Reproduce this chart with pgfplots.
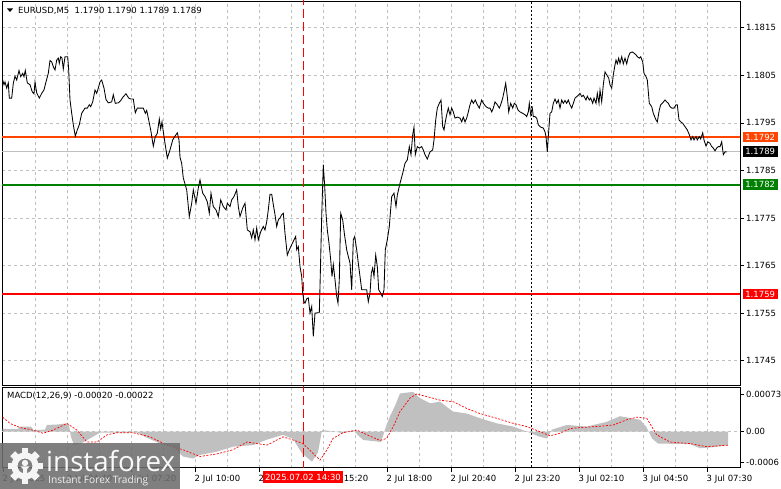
\documentclass[border=0pt]{standalone}
\usepackage{pgfplots}
\usepackage{pgfplotstable}
\pgfplotsset{compat=1.18}
\usepackage{fontspec}
\setmainfont{DejaVu Sans}
\newfontfamily\logofont{Open Sans}
\definecolor{gridc}{HTML}{C0C0C0}
\definecolor{tagorange}{HTML}{FF4500}
\definecolor{tagred}{HTML}{FF0000}
\definecolor{taggreen}{HTML}{008000}
\definecolor{histc}{HTML}{C0C0C0}
\definecolor{logobox}{HTML}{6E6E6E}
\newcommand{\lbl}{\fontsize{8.5bp}{10bp}\selectfont}

% prices (EURUSD, M5 close); x = position along the time axis
\pgfplotstableread{
x y
2.7 1.18040
4 1.18030
5 1.18036
6.7 1.18023
8.3 1.18034
9.3 1.18002
11.7 1.18002
13.3 1.18033
15 1.18048
16.7 1.18040
19 1.18060
20.7 1.18047
22.7 1.18054
24 1.18047
25.3 1.18060
27.3 1.18034
30 1.18030
32.3 1.18015
34 1.18011
35 1.18036
36.7 1.18013
39.3 1.18002
41.7 1.18012
44 1.18019
46 1.18036
48.3 1.18054
50 1.18081
51.7 1.18078
53.3 1.18068
55 1.18061
56.7 1.18082
58.3 1.18086
59.3 1.18075
60.7 1.18089
62 1.18086
63.3 1.18063
65 1.18089
67.7 1.18089
68.7 1.18061
70 1.17998
71.7 1.17970
73.3 1.17946
75.3 1.17922
77.3 1.17935
79.3 1.17946
81.7 1.17970
85 1.17981
87.3 1.17981
89.3 1.17988
90.7 1.17984
92.7 1.17994
95 1.18019
96.7 1.18012
98.3 1.18023
100 1.18036
101.7 1.18040
104 1.18023
106 1.17999
108.3 1.17992
111.7 1.17994
113.3 1.18009
115.3 1.17991
118.3 1.17992
120.7 1.17997
123.3 1.18005
126 1.18011
128.7 1.18002
130.7 1.18000
133.3 1.18000
135.3 1.17971
137.3 1.17981
140 1.17981
143.3 1.17981
145.3 1.17970
146.7 1.17976
148.7 1.17956
150.7 1.17935
153.3 1.17901
155.3 1.17921
157.3 1.17928
159.3 1.17958
160.7 1.17937
162 1.17952
163.3 1.17931
165 1.17907
167.3 1.17876
170 1.17893
172.7 1.17914
175 1.17922
177.3 1.17929
179 1.17914
180 1.17878
181.7 1.17864
183.3 1.17834
186.7 1.17809
189.3 1.17753
191.7 1.17781
193.3 1.17809
196 1.17781
198.3 1.17813
200 1.17830
202.7 1.17802
205 1.17795
207.3 1.17784
209.3 1.17760
211 1.17802
213.3 1.17774
216 1.17767
218.3 1.17753
220.7 1.17788
223.3 1.17774
226 1.17767
227.3 1.17781
230 1.17774
231.7 1.17788
234 1.17795
236.7 1.17809
238.3 1.17774
240 1.17753
242.7 1.17771
245 1.17781
247.3 1.17725
250 1.17721
251.7 1.17708
253.3 1.17725
255 1.17704
256.7 1.17729
258.3 1.17704
260.7 1.17721
263.3 1.17732
265 1.17725
266.7 1.17742
268.3 1.17767
270 1.17800
271.7 1.17800
273.3 1.17778
275 1.17757
276.7 1.17732
278.3 1.17746
280 1.17750
281.7 1.17757
283.3 1.17760
285 1.17718
287.3 1.17672
289.3 1.17683
291.7 1.17694
294 1.17704
295.7 1.17711
296.7 1.17683
298.3 1.17690
300 1.17648
301.7 1.17627
302.7 1.17592
304 1.17574
305 1.17571
306.7 1.17580
308.3 1.17582
310 1.17550
311.7 1.17564
313.3 1.17501
315 1.17550
319.3 1.17551
320 1.17606
321.7 1.17753
323.3 1.17862
324.7 1.17816
326 1.17760
327.3 1.17725
329 1.17697
330.7 1.17662
332 1.17627
333.3 1.17652
335 1.17620
336.7 1.17585
338 1.17571
339.3 1.17620
340.7 1.17760
342.7 1.17746
344.3 1.17718
346.7 1.17683
348.3 1.17669
350 1.17655
351.7 1.17599
353.3 1.17704
354.7 1.17711
356.7 1.17683
358.3 1.17655
360 1.17627
361.7 1.17599
364 1.17599
366.7 1.17599
368.3 1.17574
370 1.17592
371.3 1.17634
372.7 1.17645
374 1.17627
375.7 1.17672
377.3 1.17648
378.7 1.17599
380.7 1.17592
382.3 1.17585
384 1.17599
385.3 1.17683
387.3 1.17704
389.3 1.17732
391.7 1.17795
394 1.17802
396 1.17774
397.3 1.17798
400 1.17823
402.7 1.17844
405 1.17865
407.3 1.17872
409.3 1.17900
411 1.17883
412.7 1.17925
414 1.17941
415.3 1.17883
417.3 1.17900
419.3 1.17897
421.7 1.17900
423.3 1.17893
425 1.17883
427.3 1.17874
430 1.17889
432.7 1.17893
434 1.17914
435.7 1.17956
437.3 1.17981
439.3 1.17991
441 1.17998
442.7 1.17942
444 1.17935
445.3 1.17952
446.7 1.17967
448.3 1.17981
450 1.17967
451.7 1.17981
453.3 1.17973
455 1.17960
457.3 1.17962
460 1.17960
461.7 1.17952
463.3 1.17962
465 1.17952
466.7 1.17960
468.3 1.17973
470 1.17988
471.7 1.17998
473.3 1.17991
475.3 1.17998
477.3 1.17988
479.3 1.17981
481.7 1.17998
483.3 1.17991
486 1.17984
488.3 1.17981
490 1.17981
491.7 1.17973
493.3 1.17981
495 1.17994
497.3 1.17988
499.3 1.17981
500.7 1.17988
502.7 1.18002
504 1.18015
505.7 1.18033
507.3 1.18005
508.7 1.17973
510.7 1.17991
512.7 1.17981
514.3 1.17991
516 1.17988
518 1.17977
520 1.17973
522.7 1.17970
525 1.17967
526.7 1.17963
528.3 1.17973
529.3 1.17991
530.7 1.17967
532.3 1.17981
533.3 1.17963
535 1.17963
536.7 1.17960
538.3 1.17946
540.7 1.17941
543.3 1.17939
545 1.17931
546 1.17921
547.3 1.17889
548.3 1.17921
550 1.17970
551.7 1.17973
553.3 1.17991
555 1.18000
556.7 1.17991
558.3 1.17998
560 1.17981
561.7 1.17998
563.3 1.17991
565 1.17997
566.7 1.17991
568.3 1.17998
570 1.17988
571.7 1.17981
573.3 1.17991
575 1.18002
576.7 1.18005
578.3 1.18008
580 1.18012
581.7 1.18005
583.3 1.18008
586 1.17998
587.3 1.18006
589.3 1.17998
590.7 1.18002
592.7 1.17991
594 1.18002
596 1.17991
597.3 1.18012
599 1.17991
600 1.18019
601.7 1.17994
603.3 1.18030
605 1.18057
606.7 1.18051
608.7 1.18044
610 1.18030
611.7 1.18023
613.3 1.18051
615 1.18072
616 1.18082
617.3 1.18074
618.7 1.18086
620 1.18075
621.7 1.18089
623.3 1.18074
625 1.18086
626.7 1.18074
628.3 1.18089
630 1.18097
632.3 1.18099
634.3 1.18096
636 1.18093
637.3 1.18089
639.3 1.18086
640.7 1.18089
642.7 1.18078
644 1.18054
646 1.18047
647.3 1.18040
649.3 1.17991
651.7 1.17984
653.3 1.17970
656 1.17956
657.3 1.17952
659.3 1.17977
660.7 1.17988
662.7 1.17992
665 1.17998
666.7 1.17994
668.3 1.17991
670 1.17984
671.7 1.17981
674 1.17981
676 1.17988
677.3 1.17988
679 1.17956
680.7 1.17952
682.7 1.17949
685 1.17942
687.3 1.17935
689.3 1.17925
691 1.17914
692.7 1.17921
694 1.17914
696 1.17921
697.3 1.17914
699.3 1.17921
700.7 1.17916
702.7 1.17929
704 1.17914
706 1.17901
707.7 1.17910
710 1.17907
711.7 1.17900
713.3 1.17897
715 1.17891
716.7 1.17897
718.3 1.17900
720 1.17900
721.7 1.17910
723.3 1.17883
725 1.17889
726.7 1.17889
}\pricetable

\pgfplotstableread{
x y
2.7 0
2.7 0.00006
6.7 0.00005
18 0.00005
20 0.00010
31 0.00010
33.3 0.00003
45 0.00004
47 0.00013
58 0.00014
66 0.00016
69 0.00012
71 -0.00010
74 -0.00026
80 -0.00024
90 -0.00013
100 -0.00002
138 -0.00002
145 -0.00010
160 -0.00023
173 -0.00029
183 -0.00048
193 -0.00052
200 -0.00045
216 -0.00039
233 -0.00029
253 -0.00026
266 -0.00016
283 -0.00006
293 -0.00014
302 -0.00042
312 -0.00058
318 -0.00040
322 0.00003
333 0.00001
343 -0.00003
353 0.00003
363 -0.00016
377 -0.00019
381 -0.00020
386 0.00010
390 0.00030
395 0.00050
400 0.00074
413 0.00077
420 0.00065
430 0.00055
440 0.00058
453 0.00039
467 0.00035
480 0.00026
497 0.00016
513 0.00010
527 0.00000
540 -0.00010
546.7 -0.00013
552 0.00004
566.7 0.00013
586.7 0.00010
606.7 0.00019
620 0.00030
640 0.00023
646 0.00010
652 -0.00013
658 -0.00023
690 -0.00024
700 -0.00032
713 -0.00030
728 -0.00026
728 0
}\histtable

\pgfplotstableread{
x y
2.7 0.00028
10 0.00016
20 0.00008
33 0.00003
43 -0.00003
53 0.00003
67 0.00016
77 0.00003
87 -0.00020
97 -0.00020
107 -0.00006
117 -0.00002
133 -0.00002
150 -0.00010
167 -0.00026
183 -0.00035
200 -0.00048
217 -0.00043
233 -0.00035
247 -0.00020
267 -0.00026
283 -0.00010
293 -0.00016
303 -0.00023
313 -0.00042
320 -0.00055
327 -0.00035
333 -0.00013
343 -0.00002
357 0.00003
367 -0.00006
380 -0.00017
386.7 -0.00013
393.3 0.00010
400 0.00039
410 0.00065
416.7 0.00073
426.7 0.00068
440 0.00061
453.3 0.00058
466.7 0.00045
480 0.00035
496.7 0.00026
513.3 0.00016
526.7 0.00010
540 0.00000
550 -0.00008
560 -0.00003
570 0.00006
580 0.00008
596.7 0.00010
613.3 0.00013
626.7 0.00023
636.7 0.00028
646.7 0.00026
656.7 -0.00006
670 -0.00020
690 -0.00023
706.7 -0.00029
728 -0.00026
}\signaltable

\begin{document}
\begin{tikzpicture}
\useasboundingbox (0,0) rectangle (781bp,489bp);
\fill[white] (0,0) rectangle (781bp,489bp);

% ---------------- main price panel (y axis in pips relative to 1.1780) ----------------
\begin{axis}[
  at={(2bp,104bp)}, anchor=south west, scale only axis,
  width=738bp, height=384bp,
  xmin=2, xmax=740, ymin=-40.11, ymax=40.61,
  scaled y ticks=false,
  axis line style={black, line width=0.8bp},
  xtick={35.5,67.5,...,707.5}, xticklabels={},
  xtick style={draw=none},
  ytick={-35,-25,-15,-5,5,15,25,35},
  yticklabels={1.1745,1.1755,1.1765,1.1775,1.1785,1.1795,1.1805,1.1815},
  ytick pos=right, yticklabel pos=right,
  tick align=outside, major tick length=4bp,
  ytick style={black, line width=0.6bp},
  yticklabel style={font=\lbl, anchor=west, inner sep=0pt, xshift=2bp},
  xmajorgrids, ymajorgrids,
  grid style={gridc, dash pattern=on 3bp off 3bp, line width=0.6bp},
]
\addplot[gridc, line width=1bp] coordinates {(2,9) (740,9)};
\addplot[tagorange, line width=1.2bp] coordinates {(2,12) (740,12)};
\addplot[taggreen, line width=2bp] coordinates {(2,2) (740,2)};
\addplot[tagred, line width=2bp] coordinates {(2,-21) (740,-21)};
\draw[red, dash pattern=on 9bp off 4bp, line width=0.9bp] (axis cs:303,-45) -- (axis cs:303,45);
\draw[black, dash pattern=on 2bp off 2bp, line width=0.8bp] (axis cs:531.7,-45) -- (axis cs:531.7,45);
\addplot[black, line width=0.85bp] table[x=x, y expr={(\thisrow{y}-1.178)*10000}] {\pricetable};
\coordinate (tA) at (axis cs:740,12);
\coordinate (tB) at (axis cs:740,9);
\coordinate (tC) at (axis cs:740,2);
\coordinate (tD) at (axis cs:740,-21);
\end{axis}

% ---------------- MACD panel (y axis in units of 0.0001) ----------------
\begin{axis}[
  at={(2bp,21.3bp)}, anchor=south west, scale only axis,
  width=738bp, height=80.7bp,
  xmin=2, xmax=740, ymin=-6.97, ymax=8.65,
  scaled y ticks=false,
  axis line style={black, line width=0.8bp},
  xtick={3.5,67.5,...,707.5},
  xticklabels={2 Jul 2025,2 Jul 04:40,2 Jul 07:20,2 Jul 10:00,2 Jul 12:40,2 Jul 15:20,2 Jul 18:00,2 Jul 20:40,2 Jul 23:20,3 Jul 02:10,3 Jul 04:50,3 Jul 07:30},
  minor xtick={35.5,67.5,...,707.5},
  xminorgrids, minor grid style={gridc, dash pattern=on 3bp off 3bp, line width=0.6bp},
  minor tick length=0pt,
  xtick pos=bottom,
  ytick={-6,0,7.3},
  yticklabels={-0.0006,0.00,0.00073},
  ytick pos=right, yticklabel pos=right,
  tick align=outside, major tick length=4bp,
  tick style={black, line width=0.6bp},
  yticklabel style={font=\lbl, anchor=west, inner sep=0pt, xshift=2bp},
  xticklabel style={font=\lbl, anchor=north west, inner sep=0pt, xshift=-1bp, yshift=-3bp},
]
\addplot[gridc, dash pattern=on 3bp off 3bp, line width=0.6bp] coordinates {(2,0) (740,0)};
\addplot[fill=histc, draw=none] table[x=x, y expr={\thisrow{y}*10000}] {\histtable} -- cycle;
\addplot[red, line width=0.7bp, dash pattern=on 2bp off 1.5bp] table[x=x, y expr={\thisrow{y}*10000}] {\signaltable};
\draw[red, dash pattern=on 9bp off 4bp, line width=0.9bp] (axis cs:303,-10) -- (axis cs:303,10);
\draw[black, dash pattern=on 2bp off 2bp, line width=0.8bp] (axis cs:531.7,-10) -- (axis cs:531.7,10);
\end{axis}

% ---------------- price tags ----------------
\tikzset{tag/.style={anchor=west, text=white, font=\lbl, inner sep=0pt, minimum height=10.5bp, minimum width=35bp}}
\node[tag, fill=tagorange] at ([xshift=2.5bp]tA) {1.1792};
\node[tag, fill=black] at ([xshift=2.5bp]tB) {1.1789};
\node[tag, fill=taggreen] at ([xshift=2.5bp]tC) {1.1782};
\node[tag, fill=tagred] at ([xshift=2.5bp]tD) {1.1759};

\begin{scope}[x=1bp, y=1bp]
% ---------------- title texts ----------------
\fill[black] (7,480.5) -- (13,480.5) -- (10,477) -- cycle;
\node[anchor=base west, inner sep=0pt, font=\lbl] at (18,475.5) {EURUSD,M5\ \ 1.1790 1.1790 1.1789 1.1789};
\node[anchor=base west, inner sep=0pt, font=\lbl] at (7,91) {MACD(12,26,9) -0.00020 -0.00022};

% ---------------- time marker ----------------
\node[fill=tagred, text=white, font=\lbl, inner sep=0pt, minimum width=80bp, minimum height=11.5bp] at (303,11.8) {2025.07.02 14:30};

% ---------------- logo ----------------
\fill[logobox, opacity=0.88] (0,0) rectangle (180,46);
\begin{scope}[shift={(25,23)}]
  \fill[white!92!gray, even odd rule] (0,0) circle (13.5) (0,0) circle (7.5);
  \foreach \a in {0,45,...,315}
    \fill[white!92!gray, rotate=\a] (-3.4,12) rectangle (3.4,17.5);
  \fill[white!92!gray] (0,3) circle (3.2);
  \fill[white!92!gray] (-4.5,-0.5) -- (4.5,-0.5) -- (2,-3) -- (2,-14) -- (-2,-14) -- (-2,-3) -- cycle;
\end{scope}
\node[anchor=base west, inner sep=0pt, text=white!95!gray] at (46,17) {\resizebox{129bp}{!}{\logofont\fontsize{24bp}{26bp}\selectfont instaforex}};
\node[anchor=base west, inner sep=0pt, text=white!88!gray] at (48,5.5) {\resizebox{100bp}{!}{\logofont\fontsize{10bp}{12bp}\selectfont Instant Forex Trading}};
\end{scope}
\end{tikzpicture}
\end{document}
